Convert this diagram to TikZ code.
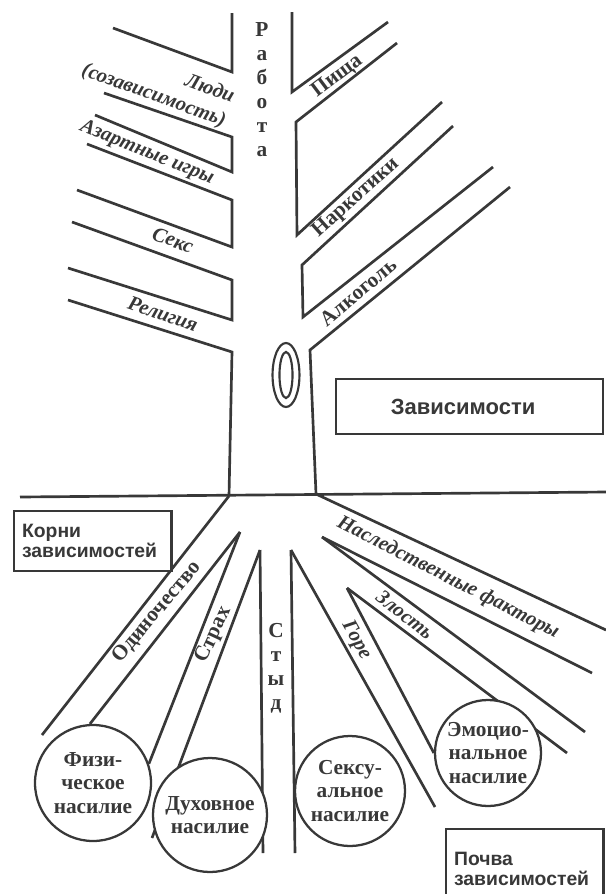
\documentclass[tikz,border=0pt]{standalone}
\usepackage{fontspec}
\setmainfont{Liberation Serif}
\newfontfamily\labfont{Liberation Serif}
\newfontfamily\boxfont{Liberation Sans}
\usepackage{tikz}

\definecolor{ink}{HTML}{383838}

\begin{document}
\begin{tikzpicture}[x=0.75pt,y=-0.75pt,line width=2pt,color=ink,
  lbl/.style={font=\labfont\fontsize{16}{18}\selectfont\bfseries},
  ilbl/.style={font=\labfont\fontsize{15.5}{19}\selectfont\bfseries\itshape},
  pit/.style={circle,draw,fill=white,line width=1.7pt,inner sep=0pt,align=center,font=\labfont\fontsize{16}{17.5}\selectfont\bfseries},
  tag/.style={draw,fill=white,line width=1.7pt,anchor=north west,align=left,font=\boxfont\fontsize{14.5}{15}\selectfont\bfseries}]

\clip (0,0) rectangle (606,894);
\fill[white] (0,0) rectangle (606,894);

% trunk, left side with its branches
\draw (113,28) -- (232,72) -- (232,13);
\draw (104,93) -- (232,137) -- (232,172) -- (95,115);
\draw (87,144) -- (232,200) -- (232,247) -- (77,190);
\draw (72,222) -- (232,280) -- (232,320) -- (68,268);
\draw (68,300) -- (232,352) -- (229,496);

% trunk, right side
\draw (388,22) -- (292,92) -- (292,12);
\draw (397,43) -- (296,122) -- (297,235) -- (442,102);
\draw (453,126) -- (302,265) -- (303,317) -- (493,167);
\draw (510,187) -- (310,350) -- (316,494);

\draw (20,497) -- (606,492);

\draw[line width=1.6pt] (286,375) ellipse [x radius=10.1pt, y radius=24pt];
\draw[line width=1.6pt] (286,375) ellipse [x radius=4.9pt, y radius=17.3pt];

\coordinate (lroot) at (229,496);
\coordinate (rroot) at (316,494);
\coordinate (v1) at (240,532);
\coordinate (v2) at (260,550);
\coordinate (v3) at (291,550);
\coordinate (v4) at (322,537);
\coordinate (v5) at (347,588);

% roots
\draw (lroot) -- (42,735);
\draw (v2) -- (152,838);
\draw (v2) -- (263,853);
\draw (v3) -- (295,853);
\draw (v3) -- (435,807);
\draw (rroot) -- (606,630);
\draw (v4) -- (592,673);
\draw (v4) -- (585,732);
\draw (v5) -- (567,753);

\node[pit, minimum size=87pt] (phys) at (93,783) {Физи-\\ческое\\насилие};
\node[pit, minimum size=85.5pt] (spirit) at (210,815) {Духовное\\насилие};
\node[pit, minimum size=82.5pt] (sexual) at (350,791) {Сексу-\\альное\\насилие};
\node[pit, minimum size=79.5pt] (emo) at (488,753) {Эмоцио-\\нальное\\насилие};

\draw (v1) -- (phys.93);
\draw (v1) -- (phys.19);
\draw (v5) -- (emo.180);

\node[tag, text width=106pt, inner xsep=6pt, minimum height=45pt] (roots) at (13,510) {Корни\\зависимостей};
\node[tag, text width=118pt, inner xsep=41pt, minimum height=41pt, font=\boxfont\fontsize{16.5}{17}\selectfont\bfseries] (addict) at (335,378) {Зависимости};
\node[tag, text width=106pt, inner xsep=6pt, minimum height=60pt] (soil) at (445,828) {Почва\\зависимостей};

% branch labels
\node[ilbl, rotate=-20, align=right] (people) at (158,84) {Люди\\(созависимость)};
\node[ilbl, rotate=-22] (gamble) at (147,153) {Азартные игры};
\node[ilbl, rotate=-20] (sexl) at (173,240) {Секс};
\node[ilbl, rotate=-19] (faith) at (163,314) {Религия};
\node[lbl, rotate=37] (food) at (337,76) {Пища};
\node[lbl, rotate=42] (drugs) at (356,198) {Наркотики};
\node[lbl, rotate=40] (alco) at (358,292) {Алкоголь};
\node[lbl, align=center] (work) at (262,90) {Р\\а\\б\\о\\т\\а};

% root labels
\node[lbl, rotate=50] (lonely) at (157,612) {Одиночество};
\node[lbl, rotate=65] (fear) at (214,635) {Страх};
\node[lbl, align=center] (shame) at (276,668) {С\\т\\ы\\д};
\node[ilbl, rotate=-61] (grief) at (356,640) {Горе};
\node[ilbl, rotate=-38] (anger) at (405,615) {Злость};
\node[ilbl, rotate=-27] (heredity) at (448,578) {Наследственные факторы};

\end{tikzpicture}
\end{document}
